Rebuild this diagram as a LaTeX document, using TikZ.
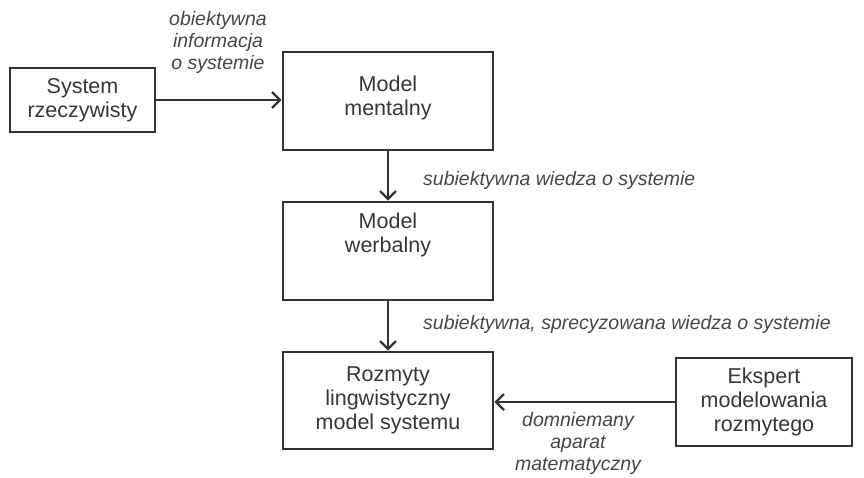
\documentclass[tikz,border=0pt]{standalone}
\usepackage{fontspec}
\setmainfont{Liberation Sans}
\usetikzlibrary{arrows.meta}
\definecolor{ink}{HTML}{333333}
\definecolor{txt}{HTML}{363636}
\definecolor{lbl}{HTML}{464646}
\begin{document}
\begin{tikzpicture}[x=1pt,y=-1pt,
  box/.style={draw=ink, line width=2.6pt, inner sep=0pt, align=center, text=txt,
    font=\fontsize{21.5}{24}\selectfont},
  lab/.style={inner sep=0pt, align=center, text=lbl,
    font=\fontsize{19.5}{22}\selectfont\itshape},
  conn/.style={draw=ink, line width=2.6pt, -{Straight Barb[length=8pt,width=16pt,line width=2.4pt]}}
]
\useasboundingbox (0,0) rectangle (864,477);
% boxes
\node[box, minimum width=145pt, minimum height=64pt] (sys) at (82.5,100) {System\\rzeczywisty};
\node[box, minimum width=210pt, minimum height=98pt] (mm) at (388,101) {};
\node[box, draw=none] (mmt) at (388,97.5) {Model\\mentalny};
\node[box, minimum width=210pt, minimum height=98pt] (mw) at (388,251) {};
\node[box, draw=none] (mwt) at (388,235) {Model\\werbalny};
\node[box, minimum width=210pt, minimum height=97pt] (rl) at (388,400.5) {Rozmyty\\lingwistyczny\\model systemu};
\node[box, minimum width=176pt, minimum height=88pt] (ek) at (764,402) {Ekspert\\modelowania\\rozmytego};
% connectors
\draw[conn] (sys.east) -- (sys.east -| mm.west);
\draw[conn] (mm.south) -- (mw.north);
\draw[conn] (mw.south) -- (rl.north);
\draw[conn] (ek.west) -- (ek.west -| rl.east);
% labels
\node[lab] (l1) at (218,42) {obiektywna\\informacja\\o systemie};
\node[lab, anchor=west] (l2) at (423,180) {subiektywna wiedza o systemie};
\node[lab, anchor=west] (l3) at (423,324) {subiektywna, sprecyzowana wiedza o systemie};
\node[lab] (l4) at (578,443) {domniemany\\aparat\\matematyczny};
\end{tikzpicture}
\end{document}
